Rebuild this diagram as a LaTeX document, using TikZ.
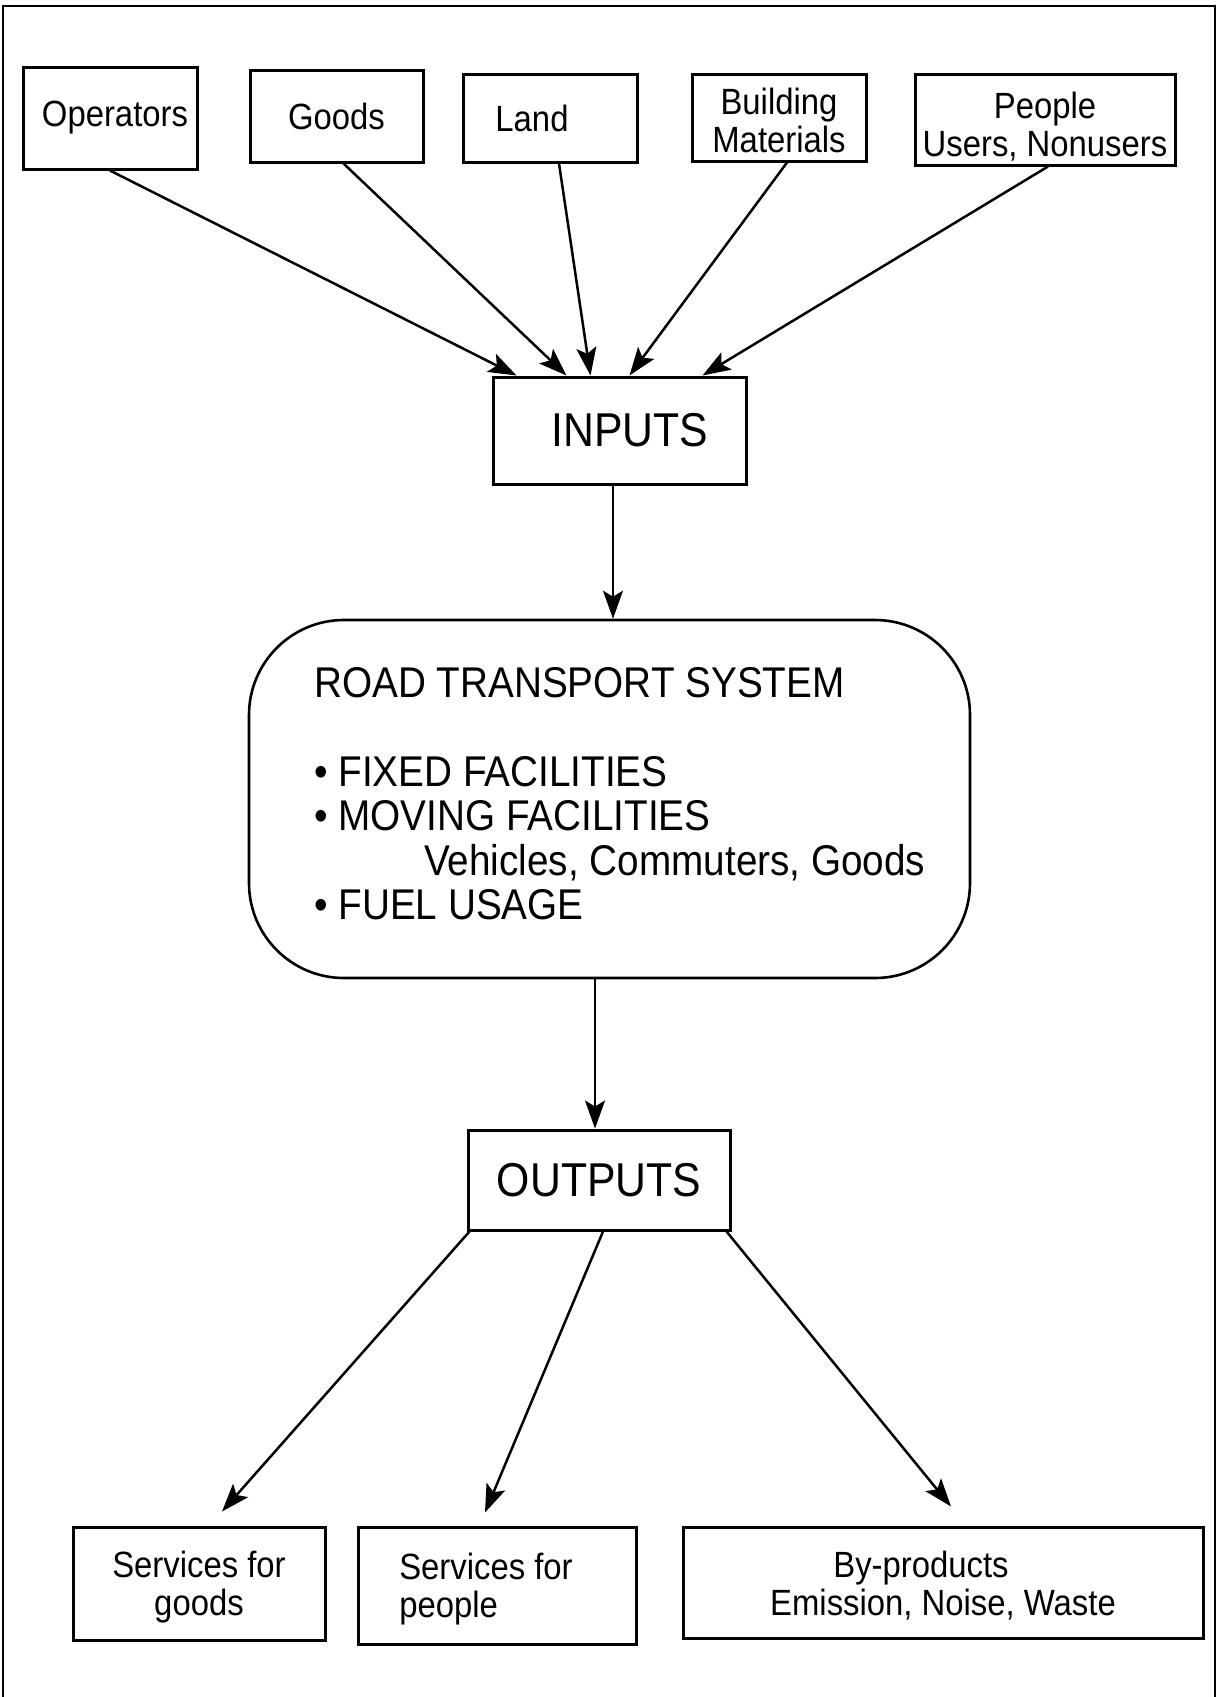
\documentclass[tikz,border=0pt]{standalone}
\usepackage{fontspec}
\setmainfont{Liberation Sans}[FakeStretch=0.9]
\usetikzlibrary{arrows.meta,calc}
\begin{document}
\begin{tikzpicture}[x=1pt,y=-1pt,
  box/.style={draw, line width=3pt, inner sep=0pt, align=center,
    font=\fontsize{36.5}{38}\selectfont},
  bigbox/.style={draw, line width=3pt, inner sep=0pt, align=center,
    font=\fontsize{47.5}{50}\selectfont},
  roadbox/.style={draw, line width=2.6pt, rounded corners=95pt, inner sep=0pt},
  arr/.style={line width=2.5pt, -{Stealth[length=28pt,width=20pt,inset=6pt]}},
  frame/.style={line width=1.8pt}
]
\useasboundingbox (0,0) rectangle (1218,1697);
\draw[frame] (3,1710) -- (3,6) -- (1215,6) -- (1215,1710);

% top inputs
\node[box, minimum width=174pt, minimum height=102pt] (op) at (110,118) {\hspace*{10pt}Operators};
\node[box, minimum width=173pt, minimum height=92pt] (goods) at (336.5,116) {Goods};
\node[box, minimum width=174pt, minimum height=88pt] (land) at (550,118) {Land\hspace*{36pt}};
\node[box, minimum width=174pt, minimum height=87pt] (build) at (779,117.5) {\rule{0pt}{33pt}Building\\Materials};
\node[box, minimum width=260pt, minimum height=91pt] (people) at (1045,119.5) {\rule{0pt}{40pt}People\\Users, Nonusers};

\node[bigbox, minimum width=253pt, minimum height=107pt] (inputs) at (619.5,430.5) {\hspace*{21pt}INPUTS};

\draw[arr] (op.south) -- ([xshift=25pt]inputs.north west);
\draw[arr] ([xshift=7pt]goods.south) -- ([xshift=75pt]inputs.north west);
\draw[arr] ([xshift=9pt]land.south) -- ([xshift=99pt]inputs.north west);
\draw[arr] ([xshift=8pt]build.south) -- ([xshift=138pt]inputs.north west);
\draw[arr] ([xshift=3pt]people.south) -- ([xshift=211pt]inputs.north west);

% road transport system
\node[roadbox, minimum width=721pt, minimum height=358pt] (road) at (609.5,799) {};
\node[anchor=north west, inner sep=0pt, align=left,
  font=\fontsize{43}{44.5}\selectfont] (roadtext) at (314,667)
  {ROAD TRANSPORT SYSTEM\\[44.5pt]
   • FIXED FACILITIES\\
   • MOVING FACILITIES\\
   \hspace*{110pt}Vehicles, Commuters, Goods\\
   • FUEL USAGE};

\draw[arr] ([xshift=-6.5pt]inputs.south) -- ([xshift=-6.5pt]inputs.south |- road.north);

% outputs
\node[bigbox, minimum width=262pt, minimum height=100pt] (outputs) at (599,1180) {OUTPUTS};
\draw[arr] ([xshift=-4pt]outputs.north |- road.south) -- ([xshift=-4pt]outputs.north);

% bottom boxes
\node[box, minimum width=252pt, minimum height=113pt] (sg) at (199,1583.5) {\rule{0pt}{33pt}Services for\\goods};
\node[box, minimum width=278pt, minimum height=117pt, align=left] (sp) at (497,1585.5) {\rule{0pt}{33pt}Services for\hspace*{22pt}\\people};
\node[box, minimum width=520pt, minimum height=111pt] (bp) at (943,1582.5) {\rule{0pt}{33pt}By-products\hspace*{44pt}\\Emission, Noise, Waste};

\draw[arr] ([xshift=3pt]outputs.south west) -- ([xshift=23pt,yshift=14pt]sg.north);
\draw[arr] ([xshift=4pt]outputs.south) -- ([xshift=-12pt,yshift=13pt]sp.north);
\draw[arr] ([xshift=-5pt]outputs.south east) -- ([xshift=8pt,yshift=19pt]bp.north);
\end{tikzpicture}
\end{document}
